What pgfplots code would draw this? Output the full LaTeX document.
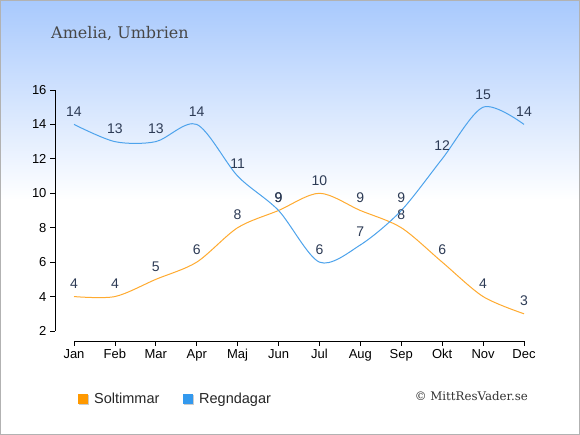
\documentclass[border=0pt]{standalone}
\usepackage{pgfplots}
\pgfplotsset{compat=1.18}
\usepackage{fontspec}
\setmainfont{Liberation Sans}
\newfontfamily\titlefont{DejaVu Serif}
\definecolor{sunc}{HTML}{FFAB30}
\definecolor{rainc}{HTML}{4DA3EC}
\definecolor{sunsq}{HTML}{FF9900}
\definecolor{rainsq}{HTML}{3399EE}
\definecolor{lbl}{HTML}{2D3B55}
\definecolor{bgtop}{HTML}{A8C9FD}
\pgfdeclareverticalshading{bgshade}{100bp}{color(0bp)=(white); color(52bp)=(white); color(75bp)=(bgtop); color(100bp)=(bgtop)}
\begin{document}
\begin{tikzpicture}[x=1pt,y=1pt]
\useasboundingbox (0,0) rectangle (580,435);
\shade[shading=bgshade] (0,0) rectangle (580,435);
\draw[color=black!30, line width=1.2pt] (0.6,0.6) rectangle (579.4,434.4);
\begin{axis}[
 at={(74pt,104pt)}, anchor=south west, scale only axis, width=450pt, height=241pt,
 xmin=0,xmax=11,ymin=2,ymax=16,
 axis x line*=bottom, axis y line*=left,
 axis x line shift=10pt, axis y line shift=19pt,
 xtick={0,...,11}, xticklabels={Jan,Feb,Mar,Apr,Maj,Jun,Jul,Aug,Sep,Okt,Nov,Dec},
 ytick={2,4,...,16},
 tick align=outside, major tick length=5pt,
 tick style={black, line width=0.8pt},
 axis line style={black, line width=0.8pt, -},
 ticklabel style={font=\fontsize{13}{15}\selectfont},
 /pgf/number format/assume math mode=true,
 clip=false,
 nodes near coords,
 every node near coord/.append style={font=\fontsize{14}{16}\selectfont, text=lbl, anchor=base, yshift=8pt, inner sep=0pt},
]
\addplot[sunc, line width=1pt, smooth, tension=0.5] coordinates {
(0,4) (1,4) (2,5) (3,6) (4,8) (5,9) (6,10) (7,9) (8,8) (9,6) (10,4) (11,3)};
\addplot[rainc, line width=1pt, smooth, tension=0.5] coordinates {
(0,14) (1,13) (2,13) (3,14) (4,11) (5,9) (6,6) (7,7) (8,9) (9,12) (10,15) (11,14)};
\end{axis}
\node[anchor=base west, text=black!72, font=\titlefont\fontsize{16}{18}\selectfont, inner sep=0pt] at (51,396.7) {Amelia, Umbrien};
\fill[black!20] (79,30) rectangle (89,40);
\fill[sunsq] (78,31) rectangle (88,41);
\node[anchor=base west, inner sep=0pt, font=\fontsize{14.5}{16}\selectfont, text=black!85] at (94,31.7) {Soltimmar};
\fill[black!20] (184,30) rectangle (194,40);
\fill[rainsq] (183,31) rectangle (193,41);
\node[anchor=base west, inner sep=0pt, font=\fontsize{14.5}{16}\selectfont, text=black!85] at (199,31.7) {Regndagar};
\node[anchor=base east, inner sep=0pt, font=\titlefont\fontsize{11.8}{14}\selectfont, text=black!80] at (528,34) {© MittResVader.se};
\end{tikzpicture}
\end{document}
